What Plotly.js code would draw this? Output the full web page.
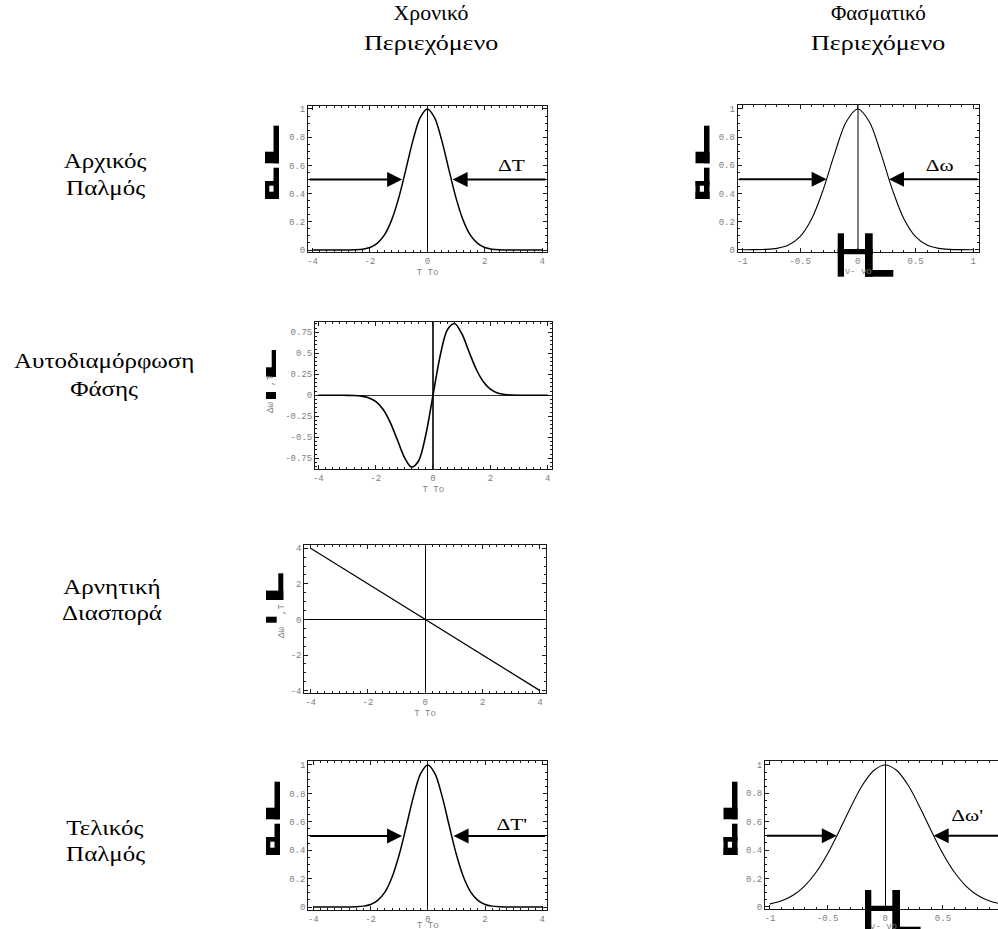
<!DOCTYPE html>
<html>
<head>
<meta charset="utf-8">
<script src="https://cdn.plot.ly/plotly-3.0.1.min.js"></script>
<style>
  html, body { margin: 0; padding: 0; background: #fff; overflow: hidden; }
  #fig { width: 1040px; height: 929px; }
</style>
</head>
<body>
<div id="fig"></div>
<script>
// ---- data -------------------------------------------------------------
// normalised time T/T0
const timeT = [-4, -3.75, -3.5, -3.25, -3, -2.75, -2.5, -2.25, -2, -1.75, -1.5, -1.25, -1, -0.75, -0.5, -0.25,
               0, 0.25, 0.5, 0.75, 1, 1.25, 1.5, 1.75, 2, 2.25, 2.5, 2.75, 3, 3.25, 3.5, 3.75, 4];
// input pulse intensity
const pulseIn = [0, 0, 0, 0, 0.0001, 0.0005, 0.0019, 0.0063, 0.018, 0.047, 0.105, 0.21, 0.368, 0.57, 0.779, 0.939,
                 1, 0.939, 0.779, 0.57, 0.368, 0.21, 0.105, 0.047, 0.018, 0.0063, 0.0019, 0.0005, 0.0001, 0, 0, 0, 0];
// self-phase-modulation frequency shift
const spmShift = [0, 0, 0, -0.0002, -0.0007, -0.0029, -0.0097, -0.028, -0.073, -0.164, -0.316, -0.524, -0.736, -0.855, -0.779, -0.47,
                  0, 0.47, 0.779, 0.855, 0.736, 0.524, 0.316, 0.164, 0.073, 0.028, 0.0097, 0.0029, 0.0007, 0.0002, 0, 0, 0];
// negative dispersion (linear chirp)
const dispT = [-4, -2, 0, 2, 4];
const dispShift = [4, 2, 0, -2, -4];
// output pulse intensity
const pulseOut = [0, 0, 0, 0, 0.0001, 0.0005, 0.0019, 0.0063, 0.018, 0.047, 0.105, 0.21, 0.368, 0.57, 0.779, 0.939,
                  1, 0.939, 0.779, 0.57, 0.368, 0.21, 0.105, 0.047, 0.018, 0.0063, 0.0019, 0.0005, 0.0001, 0, 0, 0, 0];
// frequency offset nu - nu0
const freq = [-1, -0.9, -0.8, -0.7, -0.6, -0.5, -0.4, -0.3, -0.2, -0.1, 0, 0.1, 0.2, 0.3, 0.4, 0.5, 0.6, 0.7, 0.8, 0.9, 1];
const specIn = [0.0001, 0.0004, 0.0023, 0.0095, 0.033, 0.093, 0.218, 0.425, 0.684, 0.909, 1,
                0.909, 0.684, 0.425, 0.218, 0.093, 0.033, 0.0095, 0.0023, 0.0004, 0.0001];
const specOut = [0.020, 0.042, 0.081, 0.146, 0.243, 0.374, 0.533, 0.702, 0.855, 0.961, 1,
                 0.961, 0.855, 0.702, 0.533, 0.374, 0.243, 0.146, 0.081, 0.042, 0.020];
// half-maximum points (FWHM markers)
const halfTimeIn = [-0.88, 0.88];
const halfSpecIn = [-0.27, 0.27];
const halfTimeOut = [-0.9, 0.9];
const halfSpecOut = [-0.42, 0.42];
const halfLevel = 0.5;

// tick labels
const timeTicks = [-4, -2, 0, 2, 4];
const timeTickText = ['-4', '-2', '0', '2', '4'];
const ampTicks = [0, 0.2, 0.4, 0.6, 0.8, 1];
const ampTickText = ['0', '0.2', '0.4', '0.6', '0.8', '1'];
const freqTicks = [-1, -0.5, 0, 0.5, 1];
const freqTickText = ['-1', '-0.5', '0', '0.5', '1'];
const spmTicks = [-0.75, -0.5, -0.25, 0, 0.25, 0.5, 0.75];
const spmTickText = ['-0.75', '-0.5', '-0.25', '0', '0.25', '0.5', '0.75'];
const dispTicks = [-4, -2, 0, 2, 4];
const dispTickText = ['-4', '-2', '0', '2', '4'];

// texts
const columnHeads = [['Χρονικό', 'Περιεχόμενο'], ['Φασματικό', 'Περιεχόμενο']];
const rowHeads = [['Αρχικός', 'Παλμός'], ['Αυτοδιαμόρφωση', 'Φάσης'], ['Αρνητική', 'Διασπορά'], ['Τελικός', 'Παλμός']];
const widthLabels = ['ΔT', 'Δω', "ΔT'", "Δω'"];
const timeTitle = 'T To';
const freqTitle = 'ν- νo';
const shiftTitle = ['Δω', ',T'];

// ---- layout helpers ----------------------------------------------------
const W = 1040, H = 929;
const px = x => x / W;
const py = y => 1 - y / H;

const tickFont = { family: 'Liberation Mono, Courier New, monospace', size: 9, color: '#808080' };
const serif = 'Liberation Serif, Times New Roman, serif';

function axis(opts) {
  const a = {
    domain: opts.domain,
    range: opts.range,
    anchor: opts.anchor,
    showline: true, mirror: 'allticks', linecolor: '#1a1a1a', linewidth: 1,
    ticks: 'inside', ticklen: 4, tickwidth: 1, tickcolor: '#1a1a1a',
    tickmode: 'array', tickvals: opts.tickvals, ticktext: opts.ticktext,
    minor: { ticks: 'inside', ticklen: 2, tickwidth: 1, tickcolor: '#1a1a1a', dtick: opts.minor, tick0: 0 },
    showgrid: false,
    zeroline: !!opts.zero, zerolinecolor: opts.zeroColor || '#000', zerolinewidth: opts.zeroWidth || 1,
    tickfont: tickFont,
    fixedrange: true
  };
  if (opts.title) {
    a.title = { text: opts.title, font: tickFont, standoff: 2 };
  }
  return a;
}

// panel frames in pixels: [left, right, top, bottom]
const frames = {
  p1: [308, 547, 106, 252],
  p2: [737.7, 978.7, 105, 251.7],
  p3: [315, 551.7, 321.7, 469.3],
  p4: [304.3, 545.7, 545, 693.3],
  p5: [308.3, 546.7, 760.7, 910],
  p6: [765, 1006, 760.7, 909]
};
const dx = f => [px(f[0]), px(f[1])];
const dy = f => [py(f[3]), py(f[2])];

// ---- traces -------------------------------------------------------------
const line = (w) => ({ color: '#000', width: w, shape: 'spline', smoothing: 0.9 });
const traces = [
  { x: timeT, y: pulseIn, xaxis: 'x', yaxis: 'y', mode: 'lines', line: line(1.5), hoverinfo: 'skip' },
  { x: freq, y: specIn, xaxis: 'x2', yaxis: 'y2', mode: 'lines', line: line(1.1), hoverinfo: 'skip' },
  { x: timeT, y: spmShift, xaxis: 'x3', yaxis: 'y3', mode: 'lines', line: line(1.6), hoverinfo: 'skip' },
  { x: dispT, y: dispShift, xaxis: 'x4', yaxis: 'y4', mode: 'lines', line: { color: '#000', width: 1.2 }, hoverinfo: 'skip' },
  { x: timeT, y: pulseOut, xaxis: 'x5', yaxis: 'y5', mode: 'lines', line: line(1.5), hoverinfo: 'skip' },
  { x: freq, y: specOut, xaxis: 'x6', yaxis: 'y6', mode: 'lines', line: line(1.1), hoverinfo: 'skip' }
];

// ---- annotations ----------------------------------------------------------
const annotations = [];
const widen = [];   // [annotation index, horizontal scale]

function arrowPair(xr, yr, half, leftTail, rightTail) {
  [[half[0], leftTail], [half[1], rightTail]].forEach(([tip, tail]) => {
    annotations.push({
      xref: xr, yref: yr, axref: xr, ayref: yr,
      x: tip, y: halfLevel, ax: tail, ay: halfLevel,
      text: '', showarrow: true, arrowhead: 2, arrowsize: 1.5, arrowwidth: 2, arrowcolor: '#000', standoff: 0
    });
  });
}
arrowPair('x', 'y', halfTimeIn, -4.16, 4.17);
arrowPair('x2', 'y2', halfSpecIn, -1.04, 1.05);
arrowPair('x5', 'y5', halfTimeOut, -4.17, 4.15);
arrowPair('x6', 'y6', halfSpecOut, -1.04, 1.15);

function text(t, x, y, size, opts = {}, sx = 1) {
  annotations.push(Object.assign({
    xref: 'paper', yref: 'paper', x: px(x), y: py(y), xanchor: 'center', yanchor: 'middle',
    text: t, showarrow: false, font: { family: serif, size: size, color: '#000' }
  }, opts));
  if (sx !== 1) widen.push([annotations.length - 1, sx]);
}
// column headings
text(columnHeads[0][0], 431, 13, 21, {}, 1.04);
text(columnHeads[0][1], 431, 43, 21, {}, 1.24);
text(columnHeads[1][0], 878, 13, 21, {}, 1.0);
text(columnHeads[1][1], 878, 43, 21, {}, 1.24);
// row headings
const rowY = [[162, 188], [362, 389], [587, 613], [828, 854]];
const rowX = [105, 104, 112, 105];
rowHeads.forEach((r, i) => {
  text(r[0], rowX[i], rowY[i][0], 20, {}, 1.25);
  text(r[1], rowX[i], rowY[i][1], 20, {}, 1.25);
});
// width labels
text(widthLabels[0], 511.5, 165.5, 16.5, {}, 1.3);
text(widthLabels[1], 939.5, 165.5, 16.5, {}, 1.3);
text(widthLabels[2], 512, 824, 16.5, {}, 1.3);
text(widthLabels[3], 967, 815.5, 16.5, {}, 1.3);
// frequency-shift axis labels (rotated)
function shiftLabel(xc, yDw, yT) {
  text(shiftTitle[0], xc, yDw, 9, { textangle: -90, font: tickFont });
  text(shiftTitle[1], xc, yT, 9, { textangle: -90, font: tickFont });
}
shiftLabel(271, 408, 381);
shiftLabel(282, 633, 610);
// bottom-row axis titles sit at the lower page edge
text(timeTitle, 427.5, 925.5, 9, { font: tickFont });
text(freqTitle, 883, 927, 9, { font: tickFont });

// ---- glyph blocks next to the axes ------------------------------------------
const shapes = [];
function block(x0, y0, x1, y1) {
  shapes.push({ type: 'rect', xref: 'paper', yref: 'paper', x0: px(x0), x1: px(x1), y0: py(y1), y1: py(y0),
                fillcolor: '#000', line: { width: 0 }, layer: 'above' });
}
function ampGlyph(ox, oy) {
  block(ox + 8.5, oy, ox + 14, oy + 37.6);
  block(ox, oy + 26, ox + 14, oy + 37.6);
  block(ox + 8.5, oy + 42, ox + 14, oy + 73.3);
  block(ox, oy + 55.3, ox + 14, oy + 60);
  block(ox, oy + 66, ox + 14, oy + 73.3);
  block(ox, oy + 55.3, ox + 4.3, oy + 73.3);
}
ampGlyph(265, 125.7);
ampGlyph(695.5, 125.7);
ampGlyph(266, 781.7);
ampGlyph(723.5, 781.7);

function shiftGlyph(ox, oy, barX, w) {
  block(ox + barX, oy, ox + w, oy + 26.7);
  block(ox, oy + 17.3, ox + w, oy + 26.7);
}
shiftGlyph(266, 350, 5.7, 10);
block(266, 392, 276, 399);
shiftGlyph(266, 573.3, 12.3, 17.3);
block(266, 616.7, 276.7, 622.7);

function freqGlyph(ox, oy) {
  block(ox, oy, ox + 6.3, oy + 43.4);
  block(ox, oy + 15.7, ox + 35, oy + 21);
  block(ox + 27.3, oy, ox + 35, oy + 43.4);
  block(ox + 27.3, oy + 36.7, ox + 55.6, oy + 43.4);
}
freqGlyph(837.7, 233.3);
freqGlyph(865, 890);

// ---- layout ----------------------------------------------------------------
const layout = {
  width: W, height: H, autosize: false,
  margin: { l: 0, r: 0, t: 0, b: 0, pad: 0 },
  paper_bgcolor: '#fff', plot_bgcolor: '#fff',
  showlegend: false,
  xaxis: axis({ domain: dx(frames.p1), range: [-4.16, 4.17], anchor: 'y', tickvals: timeTicks, ticktext: timeTickText, minor: 0.25, zero: true, title: timeTitle }),
  yaxis: axis({ domain: dy(frames.p1), range: [-0.014, 1.021], anchor: 'x', tickvals: ampTicks, ticktext: ampTickText, minor: 0.05 }),
  xaxis2: axis({ domain: dx(frames.p2), range: [-1.04, 1.047], anchor: 'y2', tickvals: freqTicks, ticktext: freqTickText, minor: 0.1, zero: true, zeroColor: '#808080', zeroWidth: 1.6, title: freqTitle }),
  yaxis2: axis({ domain: dy(frames.p2), range: [-0.014, 1.028], anchor: 'x2', tickvals: ampTicks, ticktext: ampTickText, minor: 0.05 }),
  xaxis3: axis({ domain: dx(frames.p3), range: [-4.115, 4.14], anchor: 'y3', tickvals: timeTicks, ticktext: timeTickText, minor: 0.25, zero: true, zeroColor: '#333', zeroWidth: 1.3, title: timeTitle }),
  yaxis3: axis({ domain: dy(frames.p3), range: [-0.881, 0.876], anchor: 'x3', tickvals: spmTicks, ticktext: spmTickText, minor: 0.05, zero: true, zeroColor: '#333', zeroWidth: 1.3 }),
  xaxis4: axis({ domain: dx(frames.p4), range: [-4.22, 4.2], anchor: 'y4', tickvals: timeTicks, ticktext: timeTickText, minor: 0.25, zero: true, zeroWidth: 1.2, title: timeTitle }),
  yaxis4: axis({ domain: dy(frames.p4), range: [-4.15, 4.18], anchor: 'x4', tickvals: dispTicks, ticktext: dispTickText, minor: 0.5, zero: true, zeroWidth: 1.2 }),
  xaxis5: axis({ domain: dx(frames.p5), range: [-4.175, 4.153], anchor: 'y5', tickvals: timeTicks, ticktext: timeTickText, minor: 0.25, zero: true }),
  yaxis5: axis({ domain: dy(frames.p5), range: [-0.021, 1.03], anchor: 'x5', tickvals: ampTicks, ticktext: ampTickText, minor: 0.05 }),
  xaxis6: axis({ domain: dx(frames.p6), range: [-1.043, 1.047], anchor: 'y6', tickvals: freqTicks, ticktext: freqTickText, minor: 0.1, zero: true }),
  yaxis6: axis({ domain: dy(frames.p6), range: [-0.016, 1.03], anchor: 'x6', tickvals: ampTicks, ticktext: ampTickText, minor: 0.05 }),
  annotations: annotations,
  shapes: shapes
};

Plotly.newPlot('fig', traces, layout, { staticPlot: true, displayModeBar: false }).then(gd => {
  // the serif captions use a wide Times face: stretch them horizontally about their centre
  widen.forEach(([idx, sx]) => {
    const g = gd.querySelector('.annotation[data-index="' + idx + '"]');
    const t = g && g.querySelector('text.annotation-text');
    if (!t) return;
    const b = t.getBBox();
    const cx = b.x + b.width / 2;
    t.setAttribute('transform', 'translate(' + cx + ',0) scale(' + sx + ',1) translate(' + (-cx) + ',0)');
  });
});
</script>
</body>
</html>
